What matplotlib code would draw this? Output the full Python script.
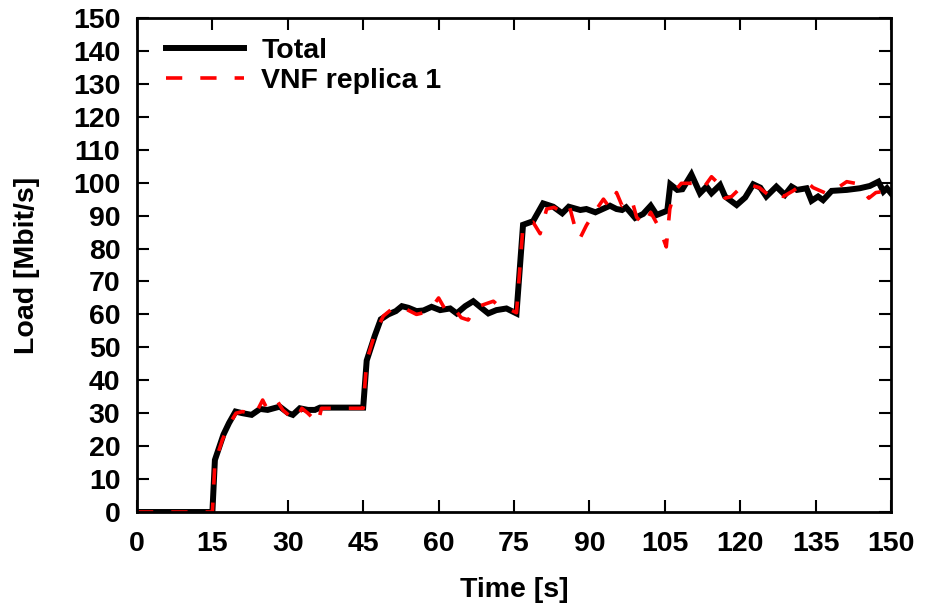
import matplotlib
matplotlib.use("Agg")
import matplotlib.pyplot as plt

plt.rcParams['font.family'] = ['Liberation Sans', 'DejaVu Sans']
plt.rcParams['font.weight'] = 'bold'

total_t = [0, 15, 15.5, 17.2, 18.3, 19.6, 21, 22.8, 24.5, 26, 28.4, 30.1, 31, 32.4, 34, 35.4, 36.4, 45,
           45.7, 47.3, 48.5, 50, 51.5, 52.7, 54, 55.6, 57, 58.6, 60.3, 62.3, 63.6, 65.3, 66.9, 68.5,
           69.9, 71.5, 73.5, 75.5, 76.8, 78.8, 80.8, 82.8, 84.6, 85.9, 88.2, 89.4, 91.2, 94.1, 95.4,
           96.5, 97.3, 99.1, 100.7, 102.2, 103.4, 105.5, 106.1, 107.5, 108.5, 110.3, 112, 113.3, 114.3,
           116, 117, 119.3, 121, 122.6, 124, 125.2, 127.2, 128.9, 130.2, 131.3, 133.2, 134.2, 135.5,
           136.5, 138.2, 141.2, 143.8, 145.8, 147.5, 148.5, 149.2, 150]
total_v = [0, 0, 15.8, 23.5, 27, 30.5, 30, 29.5, 31.3, 31, 32, 30, 29.5, 31.5, 31, 31, 31.7, 31.7,
           46, 53.5, 58.5, 60, 61, 62.5, 62, 61, 61.2, 62.3, 61.3, 61.8, 60.3, 62.5, 64, 62,
           60.3, 61.3, 61.8, 60.3, 87.2, 88.3, 93.7, 92.7, 90.7, 92.7, 91.7, 92, 91, 93, 92,
           91.7, 92.5, 89.3, 90.5, 93, 90.2, 91.5, 99.5, 97.8, 98, 102.5, 96.8, 98.8, 96.8,
           99.3, 95.8, 93.2, 95.5, 99.5, 98.5, 95.8, 98.8, 96.3, 98.8, 97.8, 98.3, 94.5, 95.8,
           94.7, 97.5, 97.8, 98.3, 99, 100.3, 97.3, 98.3, 96.8]

vnf_t = [0, 15, 15.5, 17, 18.5, 19.7, 21, 22.5, 23.5, 25, 26, 28, 29, 30.5, 31.7, 32.8, 34, 36, 36.7, 45,
         45.7, 47.3, 49, 51, 53, 55.6, 57, 58.6, 60, 61.5, 63, 64.5, 65.9, 67.2, 69, 70.9, 72, 73.5,
         75.5, 76.8, 78.8, 80.2, 81.5, 83, 84.5, 86, 87.3, 88.1, 89.4, 91, 92.8, 94, 95.4, 96.5, 98.4,
         99.4, 101, 102.2, 104, 105.3, 106, 107, 108.3, 111, 112.5, 114.3, 115.5, 117, 118.3, 120.3,
         122, 123.8, 125.6, 127, 128.6, 130.5, 133.2, 134.5, 137.5, 138.5, 141.2, 142.9, 144.5, 145.6,
         147, 148.5, 150]
vnf_v = [0, 0, 15, 22, 27, 30, 30.5, 30, 29.5, 34, 31, 33.5, 31, 29, 28, 31.5, 30, 27, 31.5, 31.5,
         46, 54, 59.5, 62, 62, 60, 60.5, 62, 65, 61, 62, 59, 58.3, 62, 63, 64, 62.5, 62,
         60.5, 87, 88, 84.5, 92, 92.5, 91, 93, 85.5, 83, 87, 91, 95, 92.5, 97, 93, 95,
         89.5, 87, 91, 86, 80.5, 92, 97.5, 99.8, 99.8, 98, 101.8, 100, 95.3, 95.8, 98.8,
         99.3, 98.5, 96.3, 97.5, 95.8, 97.5, 100.3, 98.5, 96.5, 97.5, 100.3, 99.8, 97.5, 95.3,
         97, 97.3, 100]

x_ticks = list(range(0, 151, 15))
y_ticks = list(range(0, 151, 10))

FS = 20.5

fig = plt.figure(figsize=(9.25, 6.14), dpi=100)
ax = fig.add_axes([0.1481, 0.1661, 0.8151, 0.8046])

ax.plot(total_t, total_v, color='black', lw=4.3, label='Total', solid_joinstyle='miter')
ax.plot(vnf_t, vnf_v, color='red', lw=2.6, dashes=(4.5, 5), label='VNF replica 1')

ax.set_xlim(0, 150)
ax.set_ylim(0, 150)
ax.set_xticks(x_ticks)
ax.set_yticks(y_ticks)
ax.tick_params(direction='in', length=8.5, width=1.5, top=True, right=True,
               labelsize=FS)
ax.tick_params(axis='x', pad=14)
ax.tick_params(axis='y', pad=12)
for s in ax.spines.values():
    s.set_linewidth(2)
for lab in ax.get_xticklabels() + ax.get_yticklabels():
    lab.set_fontweight('bold')

ax.set_xlabel('Time [s]', fontsize=FS, fontweight='bold', labelpad=14)
ax.set_ylabel('Load [Mbit/s]', fontsize=FS, fontweight='bold', labelpad=24)

leg = ax.legend(loc='upper left', frameon=False, handlelength=2.75,
                handletextpad=0.6, labelspacing=0.15, borderaxespad=0.3,
                bbox_to_anchor=(0.012, 1.0),
                prop={'weight': 'bold', 'size': FS})

fig.savefig('out.png', dpi=100)
